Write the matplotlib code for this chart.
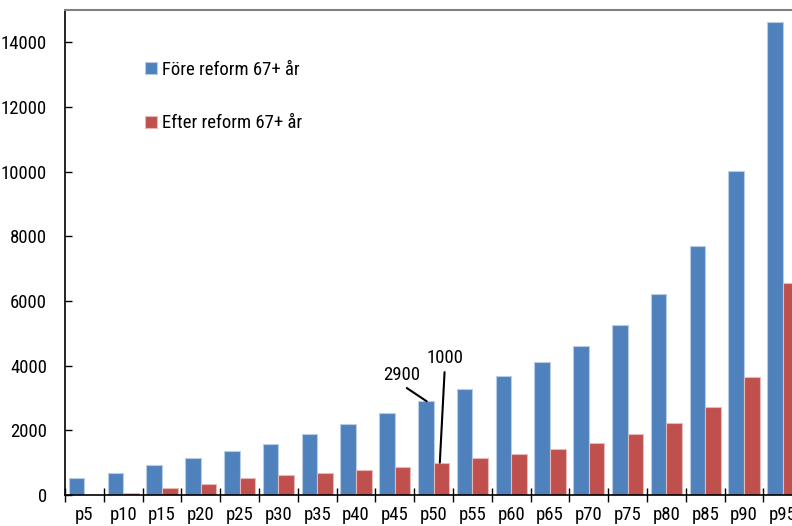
import numpy as np
import matplotlib
matplotlib.use("Agg")
import matplotlib.pyplot as plt
from matplotlib import font_manager

names = {f.name for f in font_manager.fontManager.ttflist}
cands = ['Liberation Sans Narrow', 'DejaVu Sans Condensed', 'Roboto Condensed',
         'Open Sans Condensed', 'Noto Sans Condensed', 'Liberation Sans']
fam = [c for c in cands if c in names][:1] + ['DejaVu Sans']
plt.rcParams['font.family'] = fam
plt.rcParams['font.stretch'] = 'condensed'

labels = ['p5', 'p10', 'p15', 'p20', 'p25', 'p30', 'p35', 'p40', 'p45', 'p50',
          'p55', 'p60', 'p65', 'p70', 'p75', 'p80', 'p85', 'p90', 'p95']
fore = [530, 690, 920, 1150, 1350, 1570, 1890, 2210, 2550, 2900,
        3280, 3690, 4100, 4600, 5260, 6220, 7690, 10030, 14630]
efter = [0, 70, 210, 350, 520, 610, 690, 770, 870, 1000,
         1140, 1270, 1430, 1620, 1880, 2230, 2730, 3660, 6570]

blue = '#4F81BD'
red = '#C0504D'
fs = 13.5

fig = plt.figure(figsize=(7.92, 5.26), dpi=100)
ax = fig.add_axes([65 / 792, 31 / 526, 19 * 38.8 / 792, 485 / 526])

x = np.arange(len(labels))
w = 0.4
ax.bar(x - w / 2, fore, w, color=blue, edgecolor='#b8cce4', linewidth=0.8,
       label='Före reform 67+ år')
ax.bar(x + w / 2, efter, w, color=red, edgecolor='#e6b9b8', linewidth=0.8,
       label='Efter reform 67+ år')

ax.set_xlim(-0.5, len(labels) - 0.5)
ax.set_ylim(0, 15000)
ax.set_yticks(np.arange(0, 14001, 2000))
ax.tick_params(axis='y', direction='in', length=5, width=1, labelsize=fs, pad=13)
ax.set_xticks(x)
ax.set_xticklabels(labels, fontsize=fs)
ax.set_xticks(np.arange(-0.5, len(labels), 1), minor=True)
ax.tick_params(axis='x', which='major', length=0, pad=8)
ax.tick_params(axis='x', which='minor', direction='inout', length=10, width=1)

ax.spines['top'].set_color('#808080')
ax.spines['top'].set_linewidth(1.5)
ax.spines['right'].set_visible(False)
ax.spines['left'].set_linewidth(1.2)
ax.spines['bottom'].set_linewidth(1.2)

ax.annotate('2900', xy=(9 - w / 2 + 0.02, fore[9]), xytext=(8.19, 3720),
            ha='center', va='center', fontsize=fs,
            arrowprops=dict(arrowstyle='-', color='black', lw=1.5,
                            relpos=(0.45, 0), shrinkA=2, shrinkB=0))
ax.annotate('1000', xy=(9 + w / 2 - 0.04, efter[9]), xytext=(9.29, 4250),
            ha='center', va='center', fontsize=fs,
            arrowprops=dict(arrowstyle='-', color='black', lw=1.5,
                            relpos=(0.5, 0), shrinkA=2, shrinkB=0))

ax.legend(loc='upper left', bbox_to_anchor=(0.086, 0.93), frameon=False,
          fontsize=fs, handlelength=0.65, handleheight=0.65, handletextpad=0.25,
          labelspacing=1.9)

fig.savefig('out.png', dpi=100)
